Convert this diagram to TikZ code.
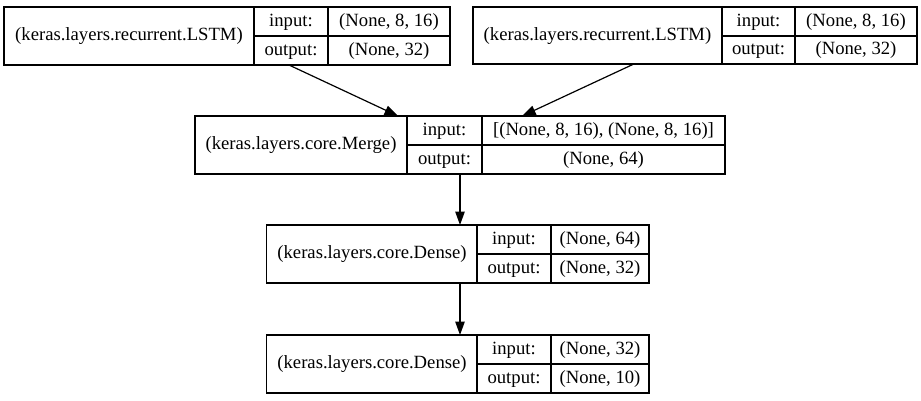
\documentclass[tikz,border=0pt]{standalone}
\usepackage{fontspec}
\setmainfont{Liberation Serif}
\usetikzlibrary{arrows.meta}
\begin{document}
\begin{tikzpicture}[x=1pt,y=-1pt,
  rec/.style={draw=black, line width=1.1pt, inner sep=0pt, outer sep=0pt, minimum height=58pt},
  cellline/.style={draw=black, line width=1.1pt},
  txt/.style={inner sep=0pt, font=\fontsize{18.67}{22}\selectfont, text height=13pt, text depth=4pt},
  edge/.style={draw=black, line width=1.2pt, -{Triangle[length=13.5pt,width=9.5pt]}}]
\useasboundingbox (0,0) rectangle (921,400);
% ---------- LSTM A ----------
\node[rec, minimum width=446pt] (lstmA) at (227,36) {};
\draw[cellline] (254,7) -- (254,65) (328,7) -- (328,65) (254,36) -- (450,36);
\node[txt] (lstmAname) at (129,36) {(keras.layers.recurrent.LSTM)};
\node[txt] (lstmAin) at (291,21.5) {input:};
\node[txt] (lstmAinv) at (389,21.5) {(None, 8, 16)};
\node[txt] (lstmAout) at (291,50.5) {output:};
\node[txt] (lstmAoutv) at (389,50.5) {(None, 32)};
% ---------- LSTM B ----------
\node[rec, minimum width=444pt, minimum height=57pt] (lstmB) at (695,35.5) {};
\draw[cellline] (722,7) -- (722,64) (795,7) -- (795,64) (722,36) -- (917,36);
\node[txt] (lstmBname) at (597.5,36) {(keras.layers.recurrent.LSTM)};
\node[txt] (lstmBin) at (758.5,21.5) {input:};
\node[txt] (lstmBinv) at (856,21.5) {(None, 8, 16)};
\node[txt] (lstmBout) at (758.5,50) {output:};
\node[txt] (lstmBoutv) at (856,50) {(None, 32)};
% ---------- Merge ----------
\node[rec, minimum width=530pt] (merge) at (460,145) {};
\draw[cellline] (407,116) -- (407,174) (482,116) -- (482,174) (407,145) -- (725,145);
\node[txt] (mergename) at (301,145) {(keras.layers.core.Merge)};
\node[txt] (mergein) at (444.5,130.5) {input:};
\node[txt] (mergeinv) at (603.5,130.5) {[(None, 8, 16), (None, 8, 16)]};
\node[txt] (mergeout) at (444.5,159.5) {output:};
\node[txt] (mergeoutv) at (603.5,159.5) {(None, 64)};
% ---------- Dense 1 ----------
\node[rec, minimum width=382.5pt] (denseA) at (457.75,254) {};
\draw[cellline] (477,225) -- (477,283) (551,225) -- (551,283) (477,254) -- (649,254);
\node[txt] (denseAname) at (372,254) {(keras.layers.core.Dense)};
\node[txt] (denseAin) at (514,239.5) {input:};
\node[txt] (denseAinv) at (600,239.5) {(None, 64)};
\node[txt] (denseAout) at (514,268.5) {output:};
\node[txt] (denseAoutv) at (600,268.5) {(None, 32)};
% ---------- Dense 2 ----------
\node[rec, minimum width=382.5pt] (denseB) at (457.75,364) {};
\draw[cellline] (477,335) -- (477,393) (551,335) -- (551,393) (477,364) -- (649,364);
\node[txt] (denseBname) at (372,364) {(keras.layers.core.Dense)};
\node[txt] (denseBin) at (514,349.5) {input:};
\node[txt] (denseBinv) at (600,349.5) {(None, 32)};
\node[txt] (denseBout) at (514,378.5) {output:};
\node[txt] (denseBoutv) at (600,378.5) {(None, 10)};
% ---------- edges ----------
\draw[edge] (lstmA) -- (merge);
\draw[edge] (lstmB) -- (merge);
\draw[edge] (merge.south) -- (merge.south |- denseA.north);
\draw[edge] (merge.south |- denseA.south) -- (merge.south |- denseB.north);
\end{tikzpicture}
\end{document}
